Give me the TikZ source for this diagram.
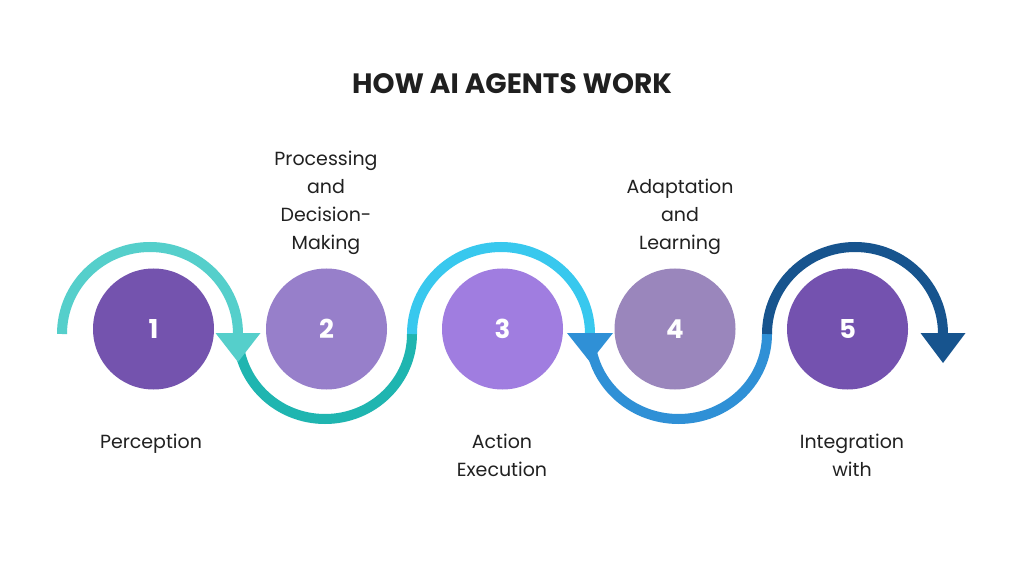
\documentclass[tikz,border=0pt]{standalone}
\usepackage{fontspec}
\setmainfont{Poppins}
\begin{document}
\begin{tikzpicture}[x=1pt,y=1pt,
  num/.style={circle,minimum size=121pt,inner sep=0pt,text=white,font=\fontsize{26}{30}\selectfont\bfseries},
  lbl/.style={align=center,text=black!87,font=\fontsize{19}{28}\selectfont,inner sep=0pt},
  band/.style={line width=10pt}]
\definecolor{cA}{HTML}{7453AE}
\definecolor{cB}{HTML}{977FCA}
\definecolor{cC}{HTML}{A07DE0}
\definecolor{cD}{HTML}{9A86BC}
\definecolor{cE}{HTML}{7452AF}
\definecolor{aA}{HTML}{55CFCB}
\definecolor{aB}{HTML}{1FB5B0}
\definecolor{aC}{HTML}{38C8EE}
\definecolor{aD}{HTML}{2F90D6}
\definecolor{aE}{HTML}{17548E}
\useasboundingbox[fill=white] (0,0) rectangle (1024,576);

% title
\node[font=\fontsize{28}{32}\selectfont\bfseries,text=black!88] (title) at (512,492) {HOW AI AGENTS WORK};

% circles
\node[num,fill=cA] (n1) at (153.5,247) {1};
\node[num,fill=cB] (n2) at (326.5,247) {2};
\node[num,fill=cC] (n3) at (502.5,247) {3};
\node[num,fill=cD] (n4) at (675,247) {4};
\node[num,fill=cE] (n5) at (847.5,247) {5};

% arc end points
\coordinate (p0) at (62,242);
\coordinate (p1) at (238,242);
\coordinate (p2) at (412,242);
\coordinate (p3) at (590,242);
\coordinate (p4) at (767,242);
\coordinate (p5) at (943,242);

% lower arcs
\draw[band,aB] (p1) arc[start angle=180,end angle=360,x radius=87,y radius=85];
\draw[band,aD] (p3) arc[start angle=180,end angle=360,x radius=88.5,y radius=85];
% upper arcs
\draw[band,aA] (p0) arc[start angle=180,end angle=0,x radius=88,y radius=87];
\draw[band,aC] (p2) arc[start angle=180,end angle=0,x radius=89,y radius=87];
\draw[band,aE] (p4) arc[start angle=180,end angle=0,x radius=88,y radius=87];

% arrow heads
\fill[aA] ([xshift=-22.5pt,yshift=1pt]p1) -- ([xshift=22.5pt,yshift=1pt]p1) -- ([yshift=-28pt]p1) -- cycle;
\fill[aD] ([xshift=-23pt,yshift=1pt]p3) -- ([xshift=23pt,yshift=1pt]p3) -- ([yshift=-28pt]p3) -- cycle;
\fill[aE] ([xshift=-22.5pt,yshift=1pt]p5) -- ([xshift=22.5pt,yshift=1pt]p5) -- ([yshift=-29pt]p5) -- cycle;

% labels
\node[lbl,anchor=north] (l2) at (326,425) {Processing\\and\\Decision-\\Making};
\node[lbl,anchor=north] (l4) at (680,397) {Adaptation\\and\\Learning};
\node[lbl,anchor=north] (l1) at (151,142) {Perception};
\node[lbl,anchor=north] (l3) at (502,142) {Action\\Execution};
\node[lbl,anchor=north] (l5) at (852,142) {Integration\\with};
\end{tikzpicture}
\end{document}
